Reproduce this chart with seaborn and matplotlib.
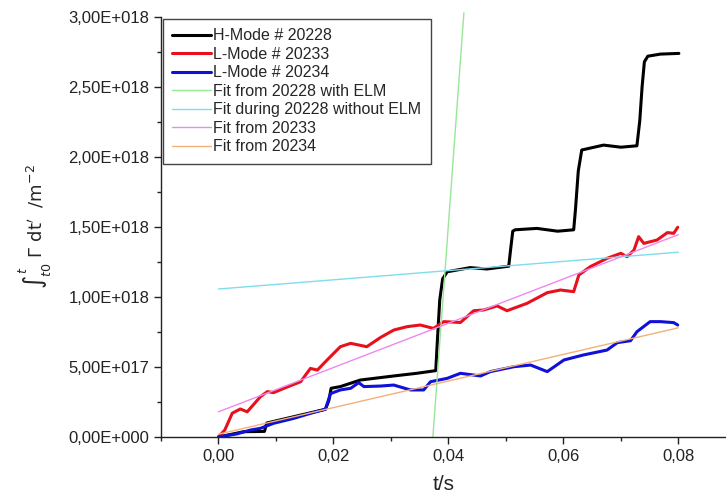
import numpy as np
import pandas as pd
import matplotlib
matplotlib.use("Agg")
import matplotlib.pyplot as plt
import matplotlib.ticker as mticker
import seaborn as sns

# ------------------------------------------------------------
# data (t in s, integral in 1e18 m^-2)
# ------------------------------------------------------------
t_h20228 = [0.0, 0.0044, 0.0080, 0.0084, 0.0131, 0.0186, 0.0192, 0.0196, 0.0212,
            0.0247, 0.0305, 0.0345, 0.0378, 0.0381, 0.0385, 0.0390, 0.0398, 0.0438,
            0.0467, 0.0505, 0.0508, 0.0512, 0.0516, 0.0554, 0.0590, 0.0618, 0.0621,
            0.0626, 0.0632, 0.0670, 0.0700, 0.0728, 0.0733, 0.0737, 0.0741, 0.0747,
            0.0769, 0.0801]
v_h20228 = [0.0, 0.038, 0.040, 0.100, 0.145, 0.198, 0.26, 0.348, 0.36,
            0.407, 0.436, 0.455, 0.474, 0.70, 0.98, 1.13, 1.18, 1.21,
            1.20, 1.22, 1.33, 1.47, 1.48, 1.49, 1.47, 1.48, 1.62,
            1.90, 2.05, 2.085, 2.07, 2.08, 2.26, 2.50, 2.68, 2.72,
            2.735, 2.74]

t_l20233 = [0.0, 0.0011, 0.0024, 0.0038, 0.0050, 0.0073, 0.0085, 0.0096, 0.0114,
            0.0143, 0.0160, 0.0172, 0.0189, 0.0212, 0.0230, 0.0258, 0.0282, 0.0305,
            0.0328, 0.0351, 0.0374, 0.0392, 0.0421, 0.0444, 0.0461, 0.0485, 0.0502,
            0.0537, 0.0572, 0.0595, 0.0618, 0.0627, 0.0647, 0.0676, 0.0700, 0.0711,
            0.0723, 0.0731, 0.0740, 0.0763, 0.0781, 0.0792, 0.0799]
v_l20233 = [0.0, 0.05, 0.17, 0.20, 0.18, 0.288, 0.324, 0.317, 0.348,
            0.395, 0.49, 0.478, 0.55, 0.645, 0.669, 0.645, 0.711, 0.764,
            0.788, 0.80, 0.776, 0.824, 0.818, 0.902, 0.907, 0.936, 0.902,
            0.955, 1.031, 1.05, 1.038, 1.157, 1.217, 1.276, 1.312, 1.288,
            1.336, 1.431, 1.383, 1.407, 1.46, 1.455, 1.498]

t_l20234 = [0.0, 0.0032, 0.0056, 0.0073, 0.0096, 0.0131, 0.0160, 0.0186, 0.0195,
            0.0212, 0.0230, 0.0244, 0.0253, 0.0282, 0.0305, 0.0334, 0.0357, 0.0369,
            0.0398, 0.0421, 0.0456, 0.0473, 0.0514, 0.0543, 0.0572, 0.0601, 0.0635,
            0.0676, 0.0694, 0.0717, 0.0728, 0.0751, 0.0769, 0.0792, 0.0799]
v_l20234 = [0.0, 0.022, 0.05, 0.062, 0.098, 0.133, 0.169, 0.198, 0.31,
            0.336, 0.348, 0.388, 0.36, 0.364, 0.371, 0.336, 0.336, 0.395,
            0.419, 0.455, 0.436, 0.467, 0.502, 0.514, 0.467, 0.55, 0.586,
            0.621, 0.674, 0.688, 0.752, 0.824, 0.824, 0.817, 0.80]

# linear fits (end points)
t_fit_elm = [0.0373, 0.0427]
v_fit_elm = [0.0, 3.03]
t_fit_noelm = [0.0, 0.080]
v_fit_noelm = [1.057, 1.32]
t_fit_20233 = [0.0, 0.080]
v_fit_20233 = [0.18, 1.445]
t_fit_20234 = [0.0, 0.080]
v_fit_20234 = [0.02, 0.78]

# ------------------------------------------------------------
# plot
# ------------------------------------------------------------
sns.set_style("ticks")
plt.rcParams["font.family"] = ["Liberation Sans", "DejaVu Sans"]

fig = plt.figure(figsize=(7.26, 5.04), dpi=100)
ax = fig.add_axes([161 / 726, 67 / 504, 565 / 726, 420 / 504])

series = [
    ("H-Mode # 20228", t_h20228, v_h20228, "#000000", 2.2),
    ("L-Mode # 20233", t_l20233, v_l20233, "#e8101a", 2.2),
    ("L-Mode # 20234", t_l20234, v_l20234, "#1010d8", 2.2),
    ("Fit from 20228 with ELM", t_fit_elm, v_fit_elm, "#98e698", 1.0),
    ("Fit during 20228 without ELM", t_fit_noelm, v_fit_noelm, "#7fdcec", 1.0),
    ("Fit from 20233", t_fit_20233, v_fit_20233, "#ee88ee", 1.0),
    ("Fit from 20234", t_fit_20234, v_fit_20234, "#f2b07a", 1.0),
]

for name, t, v, col, lw in series:
    d = pd.DataFrame({"t": t, "v": np.array(v) * 1e18})
    sns.lineplot(data=d, x="t", y="v", ax=ax, color=col, linewidth=lw,
                 estimator=None, sort=False, label=name)

# the ELM fit pokes slightly above the frame in the original
ax.lines[3].set_clip_on(False)

ax.set_xlim(-0.01, 0.0883)
ax.set_ylim(0, 3.0e18)
sns.despine(ax=ax)

ax.xaxis.set_major_locator(mticker.FixedLocator([0.0, 0.02, 0.04, 0.06, 0.08]))
ax.xaxis.set_minor_locator(mticker.FixedLocator([-0.01, 0.01, 0.03, 0.05, 0.07]))
ax.yaxis.set_major_locator(mticker.MultipleLocator(0.5e18))
ax.yaxis.set_minor_locator(mticker.MultipleLocator(0.25e18))


def x_fmt(v, pos):
    return f"{v:.2f}".replace(".", ",").replace("-0,00", "0,00")


def y_fmt(v, pos):
    if abs(v) < 1:
        return "0,00E+000"
    e = int(np.floor(np.log10(abs(v)) + 1e-9))
    m = v / 10 ** e
    return f"{m:.2f}".replace(".", ",") + f"E+{e:03d}"


ax.xaxis.set_major_formatter(mticker.FuncFormatter(x_fmt))
ax.yaxis.set_major_formatter(mticker.FuncFormatter(y_fmt))

ax.tick_params(which="major", direction="out", length=5, width=1, labelsize=12,
               color="#222222", labelcolor="#222222")
ax.tick_params(which="minor", direction="out", length=3, width=1, color="#222222")
for s in ("left", "bottom"):
    ax.spines[s].set_linewidth(1.0)
    ax.spines[s].set_color("#222222")

ax.set_xlabel("t/s", fontsize=15, labelpad=8)
ax.set_ylabel(r"$\int_{t0}^{t}\ \Gamma\ \mathrm{dt'}\ \ /\mathrm{m}^{-2}$",
              fontsize=13, labelpad=10)

leg = ax.legend(loc="upper left", bbox_to_anchor=(0.0, 1.0), borderaxespad=0.1,
                fontsize=11.5, frameon=True, fancybox=False, framealpha=1,
                edgecolor="#444444", handlelength=2.4, handletextpad=0.15,
                labelspacing=0.22, borderpad=0.6)
leg.get_frame().set_linewidth(1.0)

fig.savefig("out.png", dpi=100)
plt.close(fig)
